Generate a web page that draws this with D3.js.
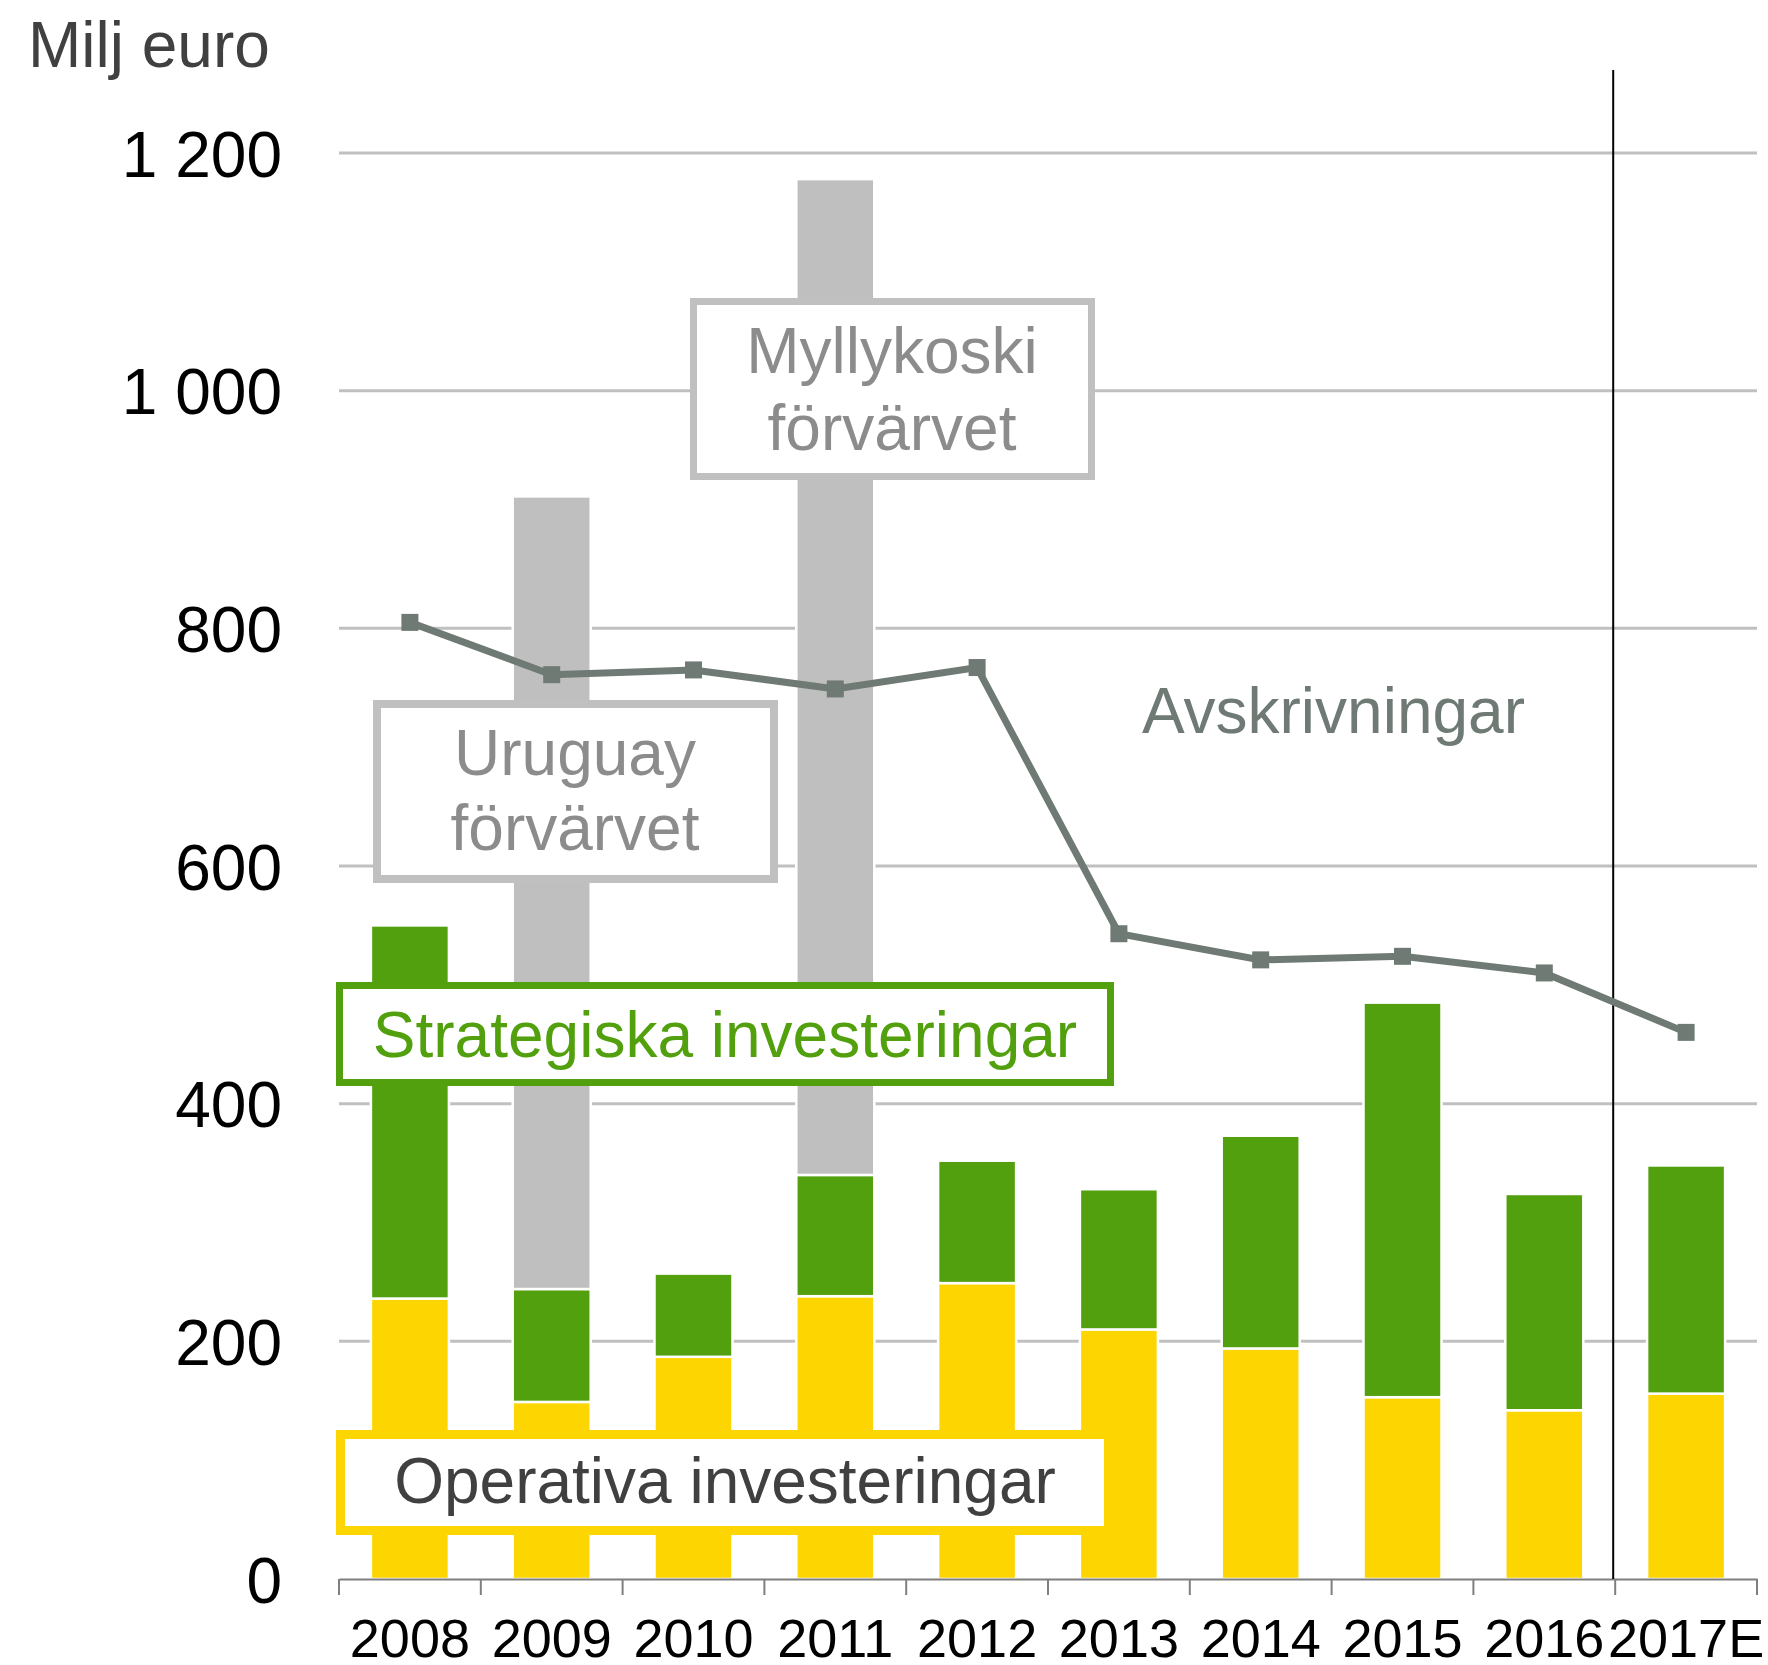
<!DOCTYPE html>
<html>
<head>
<meta charset="utf-8">
<script src="https://d3js.org/d3.v7.min.js"></script>
<style>
  body { margin: 0; background: #fff; }
  text { font-family: Arial, "Liberation Sans", sans-serif; }
</style>
</head>
<body>
<div id="chart"></div>
<script>
var svgWidth = 1768;
var svgHeight = 1665;

var margin = {
  top: 153,
  right: 11,
  bottom: 86,
  left: 339
};

var width = svgWidth - margin.left - margin.right;
var height = svgHeight - margin.top - margin.bottom;

// data (Milj euro)
var years = ["2008", "2009", "2010", "2011", "2012", "2013", "2014", "2015", "2016", "2017E"];
var operativa = [236, 149, 187, 238, 249, 210, 194, 153, 142, 156];
var strategiska = [314, 95, 70, 102, 103, 118, 179, 332, 182, 192];
var forvarv = [0, 667, 0, 838, 0, 0, 0, 0, 0, 0];
var avskrivningar = [805, 761, 765, 749, 767, 543, 521, 524, 510, 460];
var yTicks = [0, 200, 400, 600, 800, 1000, 1200];
var yTickLabels = ["0", "200", "400", "600", "800", "1 000", "1 200"];

var colors = {
  operativa: "#fdd500",
  strategiska: "#52a00e",
  forvarv: "#bfbfbf",
  line: "#6e7a73"
};

var svg = d3.select("#chart")
  .append("svg")
  .attr("width", svgWidth)
  .attr("height", svgHeight);

var chartGroup = svg.append("g")
  .attr("transform", `translate(${margin.left}, ${margin.top})`);

var xScale = d3.scaleBand()
  .domain(years)
  .range([0, width])
  .paddingInner(0.45)
  .paddingOuter(0.225);

var yScale = d3.scaleLinear()
  .domain([0, 1200])
  .range([height, 0]);

// gridlines
chartGroup.append("g")
  .selectAll("line")
  .data(yTicks.filter(d => d > 0))
  .enter()
  .append("line")
  .attr("x1", 0)
  .attr("x2", width)
  .attr("y1", d => yScale(d))
  .attr("y2", d => yScale(d))
  .attr("stroke", "#c0c0c0")
  .attr("stroke-width", 3);

// y tick labels
var leftAxis = d3.axisLeft(yScale)
  .tickValues(yTicks)
  .tickFormat((d, i) => yTickLabels[i])
  .tickSize(0)
  .tickPadding(57);

var yAxis = chartGroup.append("g").call(leftAxis);
yAxis.select(".domain").remove();
yAxis.selectAll("text")
  .attr("font-size", 64)
  .attr("font-family", "Arial, 'Liberation Sans', sans-serif")
  .attr("fill", "#000")
  .attr("dy", "0.36em");

// stacked bars
var rows = years.map((y, i) => ({
  year: y,
  operativa: operativa[i],
  strategiska: strategiska[i],
  forvarv: forvarv[i]
}));

var stack = d3.stack().keys(["operativa", "strategiska", "forvarv"]);
var series = stack(rows);

chartGroup.append("g")
  .selectAll("g")
  .data(series)
  .enter()
  .append("g")
  .attr("fill", d => colors[d.key])
  .selectAll("rect")
  .data(d => d.filter(p => p[1] > p[0]))
  .enter()
  .append("rect")
  .attr("x", d => xScale(d.data.year))
  .attr("width", xScale.bandwidth())
  .attr("y", d => yScale(d[1]))
  .attr("height", d => yScale(d[0]) - yScale(d[1]))
  .attr("stroke", "#fff")
  .attr("stroke-width", 2.5);

// x axis
var bottomAxis = d3.axisBottom(xScale)
  .tickSize(0)
  .tickPadding(40);

var xAxis = chartGroup.append("g")
  .attr("transform", `translate(0, ${height})`)
  .call(bottomAxis);
xAxis.select(".domain")
  .attr("stroke", "#7f7f7f")
  .attr("stroke-width", 2);
xAxis.selectAll("text")
  .attr("font-size", 54)
  .attr("font-family", "Arial, 'Liberation Sans', sans-serif")
  .attr("fill", "#000");

// tick marks sit on band edges
var edges = years.map(y => xScale(y) - xScale.step() * xScale.paddingInner() / 2);
edges.push(width);
xAxis.append("g")
  .selectAll("line")
  .data(edges)
  .enter()
  .append("line")
  .attr("x1", d => d)
  .attr("x2", d => d)
  .attr("y1", 0)
  .attr("y2", 16)
  .attr("stroke", "#7f7f7f")
  .attr("stroke-width", 2);

// forecast divider
var dividerX = edges[9] - 2;
chartGroup.append("line")
  .attr("x1", dividerX)
  .attr("x2", dividerX)
  .attr("y1", 70 - margin.top)
  .attr("y2", height)
  .attr("stroke", "#000")
  .attr("stroke-width", 2);

// annotation boxes
function box(x0, y0, x1, y1, stroke, sw) {
  chartGroup.append("rect")
    .attr("x", x0 - margin.left + sw / 2)
    .attr("y", y0 - margin.top + sw / 2)
    .attr("width", x1 - x0 - sw)
    .attr("height", y1 - y0 - sw)
    .attr("fill", "#fff")
    .attr("stroke", stroke)
    .attr("stroke-width", sw);
}

function label(x, y, txt, fill, anchor) {
  svg.append("text")
    .attr("x", x)
    .attr("y", y)
    .attr("text-anchor", anchor || "middle")
    .attr("font-size", 64)
    .attr("fill", fill)
    .text(txt);
}

box(373, 700, 778, 883, "#c0c0c0", 8);
label(575, 775, "Uruguay", "#8c8c8c");
label(575, 850, "förvärvet", "#8c8c8c");

box(690, 298, 1095, 480, "#c0c0c0", 7);
label(892, 373, "Myllykoski", "#8c8c8c");
label(892, 450, "förvärvet", "#8c8c8c");

box(336, 982, 1114, 1086, colors.strategiska, 7);
label(725, 1057, "Strategiska investeringar", colors.strategiska);

box(336, 1430, 1113, 1535, colors.operativa, 9);
label(725, 1503, "Operativa investeringar", "#404040");

// avskrivningar line
var lineGen = d3.line()
  .x((d, i) => xScale(years[i]) + xScale.bandwidth() / 2)
  .y(d => yScale(d));

chartGroup.append("path")
  .datum(avskrivningar)
  .attr("d", lineGen)
  .attr("fill", "none")
  .attr("stroke", colors.line)
  .attr("stroke-width", 7);

chartGroup.append("g")
  .selectAll("rect")
  .data(avskrivningar)
  .enter()
  .append("rect")
  .attr("x", (d, i) => xScale(years[i]) + xScale.bandwidth() / 2 - 8.5)
  .attr("y", d => yScale(d) - 8.5)
  .attr("width", 17)
  .attr("height", 17)
  .attr("fill", colors.line);

label(1142, 733, "Avskrivningar", colors.line, "start");

// unit label
label(28, 67, "Milj euro", "#404040", "start");
</script>
</body>
</html>
